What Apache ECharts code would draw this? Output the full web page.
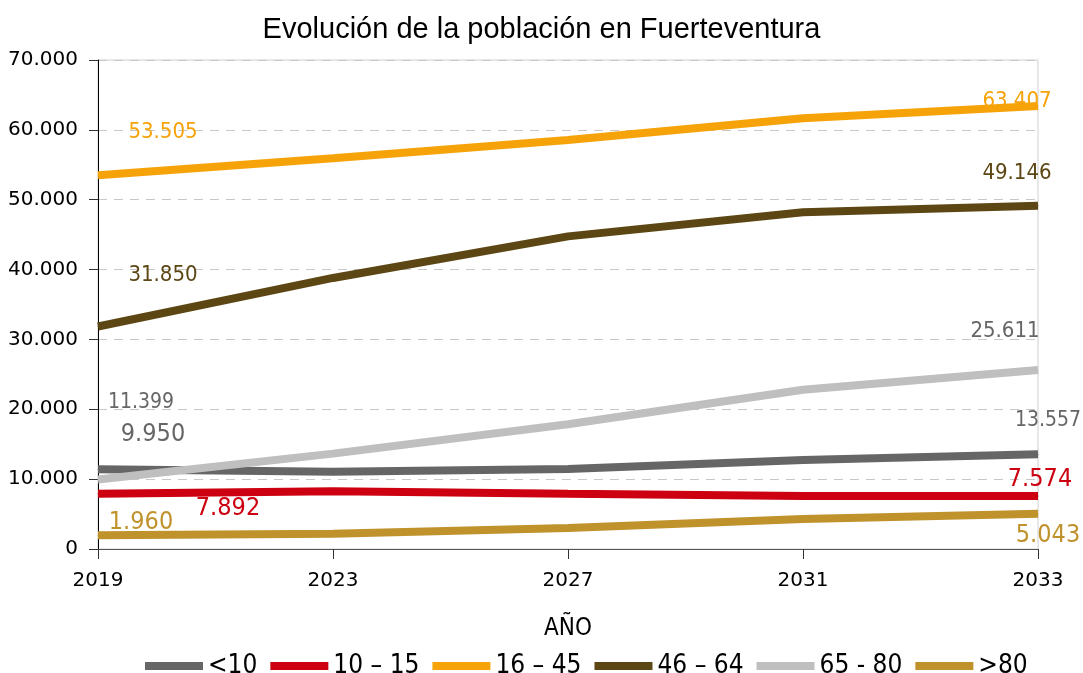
<!DOCTYPE html>
<html>
<head>
<meta charset="utf-8">
<script src="https://cdn.jsdelivr.net/npm/echarts@6/dist/echarts.min.js"></script>
<style>
  html, body { margin: 0; padding: 0; background: #fff; }
  #chart { width: 1083px; height: 673px; }
</style>
</head>
<body>
<div id="chart"></div>
<script>
// datos
var years = ["2019", "2023", "2027", "2031", "2033"];
var menos10 = [11399, 11050, 11450, 12750, 13557];
var de10a15 = [7892, 8250, 7900, 7600, 7574];
var de16a45 = [53505, 55950, 58550, 61650, 63407];
var de46a64 = [31850, 38800, 44750, 48200, 49146];
var de65a80 = [9950, 13650, 17850, 22800, 25611];
var mas80 = [1960, 2200, 3000, 4300, 5043];

var fmt = function (v) {
  return String(v).replace(/\B(?=(\d{3})+(?!\d))/g, ".");
};

var narrow = "'DejaVu Sans Condensed', 'Liberation Sans', sans-serif";
var dejavu = "'DejaVu Sans', sans-serif";

// etiquetas de primer y ultimo punto: [offset, fontSize, color]
function serie(name, values, color, first, last) {
  var data = values.map(function (v, i) {
    var cfg = i === 0 ? first : (i === values.length - 1 ? last : null);
    if (!cfg) return v;
    return {
      value: v,
      label: {
        show: true,
        position: "inside",
        offset: cfg[0],
        fontSize: cfg[1],
        color: cfg[2],
        fontFamily: narrow,
        formatter: function (p) { return fmt(p.value); }
      }
    };
  });
  return {
    name: name,
    type: "line",
    data: data,
    symbol: "circle",
    symbolSize: 1,
    showSymbol: true,
    smooth: false,
    lineStyle: { width: 8, color: color },
    itemStyle: { color: color },
    label: { show: false },
    z: 3
  };
}

var myChart = echarts.init(document.getElementById("chart"), null, { renderer: "canvas" });
myChart.setOption({
  animation: false,
  backgroundColor: "#fff",
  title: {
    text: "Evolución de la población en Fuerteventura",
    left: "center",
    top: 10,
    textStyle: { fontFamily: "Liberation Sans", fontSize: 29, fontWeight: "normal", color: "#000" }
  },
  grid: {
    left: 98, right: 45, top: 60, bottom: 124,
    show: true, borderColor: "#d0d0d0", borderWidth: 1
  },
  legend: {
    top: 648,
    left: 140,
    icon: "rect",
    itemWidth: 58,
    itemHeight: 8,
    itemGap: 13,
    textStyle: { fontFamily: narrow, fontSize: 26, color: "#000" },
    data: ["<10", "10 – 15", "16 – 45", "46 – 64", "65 - 80", ">80"]
  },
  xAxis: {
    type: "category",
    data: years,
    boundaryGap: false,
    name: "AÑO",
    nameLocation: "middle",
    nameGap: 68,
    nameTextStyle: { fontFamily: narrow, fontSize: 24, color: "#000" },
    axisLine: { lineStyle: { color: "#555", width: 1 } },
    axisTick: { show: true, length: 10, alignWithLabel: true, lineStyle: { color: "#333" } },
    axisLabel: { fontFamily: dejavu, fontSize: 20, color: "#000", margin: 22 },
    splitLine: { show: false }
  },
  yAxis: {
    type: "value",
    min: 0,
    max: 70000,
    interval: 10000,
    axisLine: { show: true, lineStyle: { color: "#000", width: 1 } },
    axisTick: { show: true, length: 9, lineStyle: { color: "#333" } },
    axisLabel: { fontFamily: dejavu, fontSize: 20, color: "#000", margin: 20, formatter: fmt },
    splitLine: { lineStyle: { color: "#c8c8c8", type: [9, 7], width: 1 } }
  },
  series: [
    serie("<10", menos10, "#666666", [[43, -67], 21, "#666666"], [[10, -34], 21, "#666666"]),
    serie("10 – 15", de10a15, "#cc0010", [[130, 15], 25, "#cc0010"], [[2, -17], 25, "#cc0010"]),
    serie("16 – 45", de16a45, "#f6a30a", [[65, -43], 22, "#f6a30a"], [[-21, -5], 22, "#f6a30a"]),
    serie("46 – 64", de46a64, "#5c4614", [[65, -51], 22, "#5c4614"], [[-21, -32], 22, "#5c4614"]),
    serie("65 - 80", de65a80, "#bfbfbf", [[55, -45], 25, "#666666"], [[-33, -39], 22, "#666666"]),
    serie(">80", mas80, "#c0922c", [[43, -13], 25, "#c0922c"], [[10, 22], 25, "#c0922c"])
  ]
});
</script>
</body>
</html>
